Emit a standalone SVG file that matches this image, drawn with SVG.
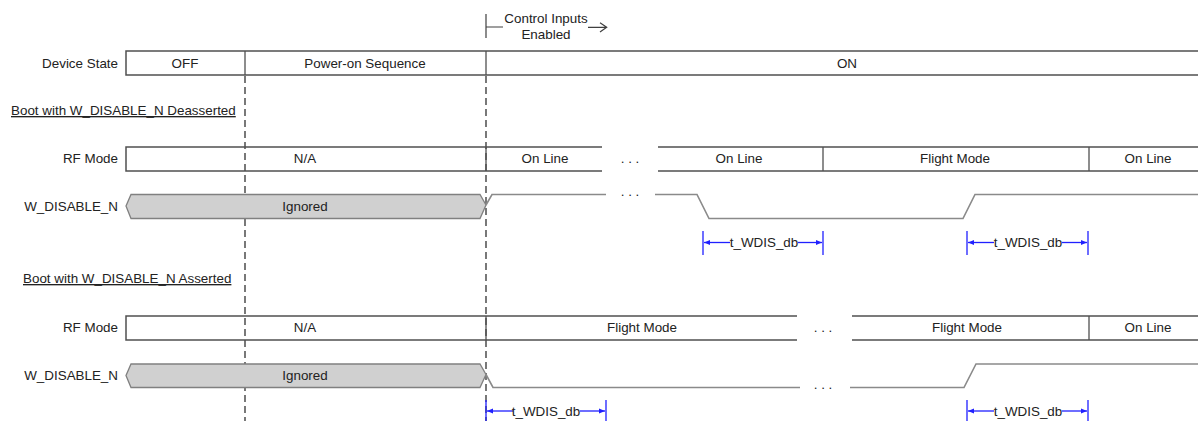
<svg xmlns="http://www.w3.org/2000/svg" width="1198" height="421" viewBox="0 0 1198 421">
<style>
text{font-family:"Liberation Sans",Arial,sans-serif;font-size:13.4px;fill:#222}
.r{text-anchor:end}
.m{text-anchor:middle}
.u{text-decoration:underline}
.box{fill:none;stroke:#505050;stroke-width:1.5}
.div{stroke:#505050;stroke-width:1.3}
.sig{fill:none;stroke:#8a8a8a;stroke-width:1.6}
.hex{fill:#d0d0d0;stroke:#808080;stroke-width:1.3}
.dash{stroke:#404040;stroke-width:1.4;stroke-dasharray:7 4;fill:none}
.tb{stroke:#2020ff;stroke-width:1.3}
.ta{stroke:#2020ff;stroke-width:1.3;marker-end:url(#ah)}
.ln{stroke:#404040;stroke-width:1.2;fill:none}
</style>
<defs>
<marker id="ah" viewBox="0 0 10 10" refX="10" refY="5" markerWidth="7" markerHeight="6" orient="auto" markerUnits="userSpaceOnUse">
<path d="M0,1 L10,5 L0,9 z" fill="#2020ff"/>
</marker>
</defs>
<rect width="1198" height="421" fill="#fff"/>

<g id="control-inputs">
<path class="ln" d="M486,14 V38 M486,27 H503"/>
<text class="m" x="546" y="23">Control Inputs</text>
<text class="m" x="546" y="38.5">Enabled</text>
<path class="ln" d="M588,27.3 H606.5 M600,22.7 L606.7,27.3 L600,32"/>
</g>

<g id="device-state">
<text class="r" x="118" y="68">Device State</text>
<path class="box" d="M1199,51 H126 V75 H1199"/>
<line class="div" x1="245" y1="51" x2="245" y2="75"/>
<line class="div" x1="486" y1="51" x2="486" y2="75"/>
<text class="m" x="185" y="68">OFF</text>
<text class="m" x="365" y="68">Power-on Sequence</text>
<text class="m" x="847" y="68">ON</text>
</g>

<g id="connectors">
<line class="dash" x1="245" y1="76" x2="245" y2="421"/>
<line class="dash" x1="486" y1="76" x2="486" y2="421"/>
</g>

<g id="boot-deasserted">
<text class="u" x="11" y="115">Boot with W_DISABLE_N Deasserted</text>
</g>

<g id="rf-mode-1">
<text class="r" x="118" y="163">RF Mode</text>
<path class="box" d="M602,147 H126 V171 H602"/>
<path class="box" d="M658,147 H1199 M658,171 H1199"/>
<line class="div" x1="486" y1="147" x2="486" y2="171"/>
<line class="div" x1="823" y1="147" x2="823" y2="171"/>
<line class="div" x1="1089" y1="147" x2="1089" y2="171"/>
<text class="m" x="305" y="163">N/A</text>
<text class="m" x="545" y="163">On Line</text>
<text class="m" x="630" y="163">. . .</text>
<text class="m" x="739" y="163">On Line</text>
<text class="m" x="955" y="163">Flight Mode</text>
<text class="m" x="1148" y="163">On Line</text>
</g>

<g id="w-disable-1">
<text class="r" x="118" y="211">W_DISABLE_N</text>
<path class="hex" d="M126,206 L131,194.5 H480 L486,205 L480,218.5 H131 Z"/>
<text class="m" x="305" y="211">Ignored</text>
<path class="sig" d="M486,205 L492,194.5 H606"/>
<text class="m" x="630" y="196">. . .</text>
<path class="sig" d="M655,194.5 H697 L709,218.5 H963 L975,194.5 H1199"/>
</g>

<g id="timing-1">
<line class="tb" x1="703" y1="231" x2="703" y2="255"/>
<line class="tb" x1="823" y1="231" x2="823" y2="255"/>
<line class="ta" x1="730" y1="242.5" x2="704" y2="242.5"/>
<line class="ta" x1="798" y1="242.5" x2="822" y2="242.5"/>
<text class="m" x="764" y="247">t_WDIS_db</text>
<line class="tb" x1="967" y1="231" x2="967" y2="255"/>
<line class="tb" x1="1088" y1="231" x2="1088" y2="255"/>
<line class="ta" x1="994" y1="242.5" x2="968" y2="242.5"/>
<line class="ta" x1="1062" y1="242.5" x2="1087" y2="242.5"/>
<text class="m" x="1028" y="247">t_WDIS_db</text>
</g>

<g id="boot-asserted">
<text class="u" x="23" y="283">Boot with W_DISABLE_N Asserted</text>
</g>

<g id="rf-mode-2">
<text class="r" x="118" y="332">RF Mode</text>
<path class="box" d="M797,316 H126 V340 H797"/>
<path class="box" d="M852,316 H1199 M852,340 H1199"/>
<line class="div" x1="486" y1="316" x2="486" y2="340"/>
<line class="div" x1="1089" y1="316" x2="1089" y2="340"/>
<text class="m" x="305" y="332">N/A</text>
<text class="m" x="642" y="332">Flight Mode</text>
<text class="m" x="823" y="332">. . .</text>
<text class="m" x="967" y="332">Flight Mode</text>
<text class="m" x="1148" y="332">On Line</text>
</g>

<g id="w-disable-2">
<text class="r" x="118" y="380">W_DISABLE_N</text>
<path class="hex" d="M126,375.5 L131,364 H480 L486,374.5 L480,387.5 H131 Z"/>
<text class="m" x="305" y="380">Ignored</text>
<path class="sig" d="M486,374.5 L493,387.5 H800"/>
<text class="m" x="823" y="389">. . .</text>
<path class="sig" d="M850,387.5 H964 L976,364 H1199"/>
</g>

<g id="timing-2">
<line class="tb" x1="486" y1="400" x2="486" y2="421"/>
<line class="tb" x1="606" y1="400" x2="606" y2="421"/>
<line class="ta" x1="513" y1="411" x2="487" y2="411"/>
<line class="ta" x1="580" y1="411" x2="605" y2="411"/>
<text class="m" x="546" y="416">t_WDIS_db</text>
<line class="tb" x1="967" y1="400" x2="967" y2="421"/>
<line class="tb" x1="1088" y1="400" x2="1088" y2="421"/>
<line class="ta" x1="994" y1="411" x2="968" y2="411"/>
<line class="ta" x1="1062" y1="411" x2="1087" y2="411"/>
<text class="m" x="1028" y="416">t_WDIS_db</text>
</g>
</svg>
